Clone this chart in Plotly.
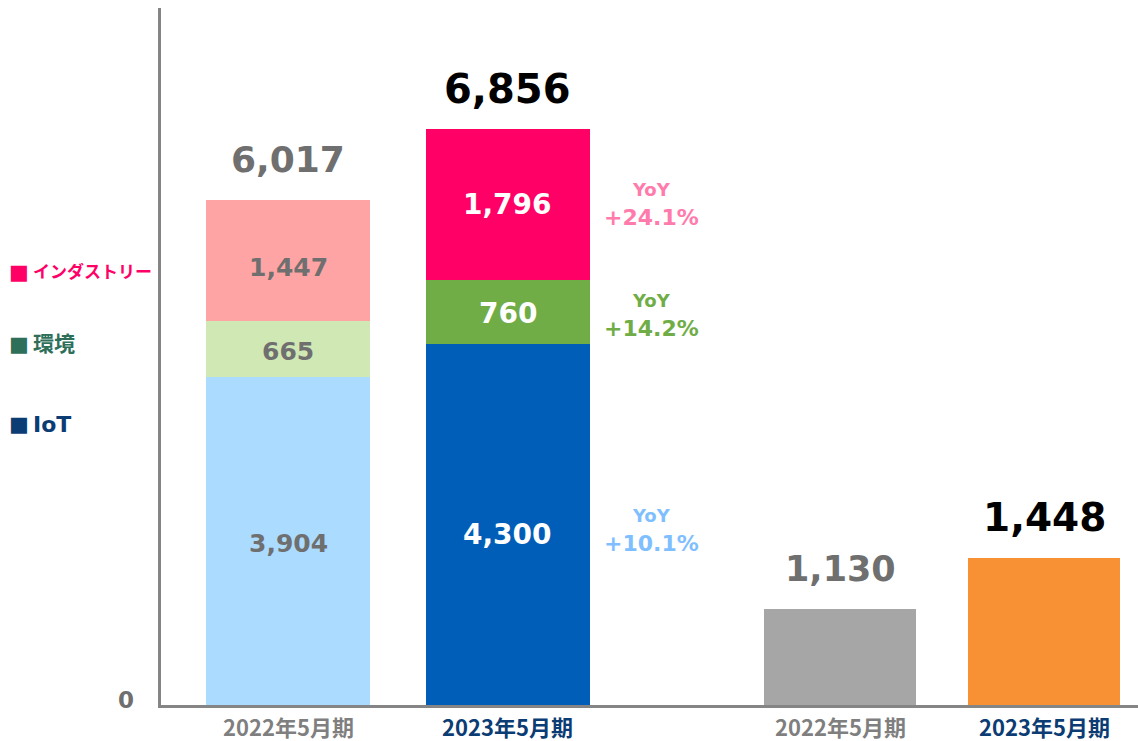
import plotly.graph_objects as go

# ---------------- data ----------------
periods = ["2022年5月期", "2023年5月期"]
iot = [3904, 4300]
env = [665, 760]
industry = [1447, 1796]
totals = [6017, 6856]
profit = [1130, 1448]
yoy_industry = "+24.1%"
yoy_env = "+14.2%"
yoy_iot = "+10.1%"
legend_labels = ["インダストリー", "環境", "IoT"]
zero_label = "0"

# ---------------- styling / layout ----------------
W, H = 1138, 741
L, R, T, B = 161, 0, 8, 36
PW, PH = W - L - R, H - T - B

FONT = "DejaVu Sans, Noto Sans CJK JP, sans-serif"
JFONT = "Noto Sans CJK JP, DejaVu Sans, sans-serif"

# x positions (slot units) and widths
x_left = [0.0, 1.0]
x_right = [2.515, 3.444]
w_left = 0.747
w_right = 0.692
x_range = [-0.5786, 3.872]
x_yoy = 1.658

y_range = [0, 8298]
y2_range = [531, 4877]

c_iot = ["#ABDBFF", "#005EB8"]
c_env = ["#D0E9B4", "#70AD47"]
c_ind = ["#FFA4A4", "#FF0066"]
c_profit = ["#A6A6A6", "#F79133"]
gray_txt = "#6F6F6F"


def px2paper_x(px):
    return (px - L) / PW


def px2paper_y(py):
    return (T + PH - py) / PH


fig = go.Figure()
fig.add_trace(go.Bar(x=x_left, y=iot, width=w_left, marker=dict(color=c_iot, line=dict(width=0)),
                     hoverinfo="skip", showlegend=False))
fig.add_trace(go.Bar(x=x_left, y=env, width=w_left, marker=dict(color=c_env, line=dict(width=0)),
                     hoverinfo="skip", showlegend=False))
fig.add_trace(go.Bar(x=x_left, y=industry, width=w_left, marker=dict(color=c_ind, line=dict(width=0)),
                     hoverinfo="skip", showlegend=False))
fig.add_trace(go.Bar(x=x_right, y=profit, width=w_right, yaxis="y2",
                     marker=dict(color=c_profit, line=dict(width=0)),
                     hoverinfo="skip", showlegend=False))

ann = []

# totals above stacked bars
tot_colors = [gray_txt, "#000000"]
tot_sizes = [36, 40]
for i in range(2):
    ann.append(dict(x=x_left[i], y=totals[i], xref="x", yref="y", text=f"<b>{totals[i]:,}</b>",
                    showarrow=False, yanchor="middle", yshift=40,
                    font=dict(family=FONT, size=tot_sizes[i], color=tot_colors[i])))
# totals above profit bars
prof_sizes = [35, 39]
for i in range(2):
    ann.append(dict(x=x_right[i], y=profit[i], xref="x", yref="y2", text=f"<b>{profit[i]:,}</b>",
                    showarrow=False, yanchor="middle", yshift=40,
                    font=dict(family=FONT, size=prof_sizes[i], color=tot_colors[i])))

# inner segment labels
seg_txt_colors = [gray_txt, "#FFFFFF"]
seg_sizes = [25, 28]
for i in range(2):
    b0 = 0
    for vals, ys in ((iot, -2 if i == 0 else -10), (env, -2), (industry, -7 if i == 0 else 0)):
        v = vals[i]
        ann.append(dict(x=x_left[i], y=b0 + v / 2, xref="x", yref="y", text=f"<b>{v:,}</b>",
                        showarrow=False, yanchor="middle", yshift=ys,
                        font=dict(family=FONT, size=seg_sizes[i], color=seg_txt_colors[i])))
        b0 += v

# YoY labels next to 2023 segments
yoy_items = [
    (iot[1] / 2, yoy_iot, "#7FBFFF", -6),
    (iot[1] + env[1] / 2, yoy_env, "#70AD47", -4),
    (iot[1] + env[1] + industry[1] / 2, yoy_industry, "#FF7BAC", 0),
]
for yv, t, col, ys in yoy_items:
    ann.append(dict(x=x_yoy, y=yv, xref="x", yref="y",
                    text=f"<b><span style='font-size:18px'>YoY</span><br>{t}</b>",
                    showarrow=False, yanchor="middle", yshift=ys, align="center",
                    font=dict(family=FONT, size=22, color=col)))

# category labels under bars
cat_colors = ["#7F7F7F", "#0B3C73"]
for xs in (x_left, x_right):
    for i in range(2):
        ann.append(dict(x=xs[i], y=0, xref="x", yref="paper", text=f"<b>{periods[i]}</b>",
                        showarrow=False, yanchor="middle", yshift=-21,
                        font=dict(family=JFONT, size=22, color=cat_colors[i])))

# legend (manual)
leg_colors = ["#FF0066", "#2E6F5A", "#0B3C73"]
leg_y = [272, 344, 424]
leg_sizes = [17, 21, 22]
for lab, col, py, fs in zip(legend_labels, leg_colors, leg_y, leg_sizes):
    ann.append(dict(x=px2paper_x(19), y=px2paper_y(py), xref="paper", yref="paper",
                    text="■", showarrow=False, xanchor="center", yanchor="middle",
                    font=dict(family=FONT, size=21, color=col)))
    ann.append(dict(x=px2paper_x(31), y=px2paper_y(py), xref="paper", yref="paper",
                    text=f"<b>{lab}</b>", showarrow=False, xanchor="left", yanchor="middle",
                    font=dict(family=FONT, size=fs, color=col)))

# zero label
ann.append(dict(x=px2paper_x(136), y=0, xref="paper", yref="y", text=f"<b>{zero_label}</b>",
                showarrow=False, xanchor="right", yanchor="middle", yshift=5,
                font=dict(family=FONT, size=23, color=gray_txt)))

fig.update_layout(
    width=W, height=H,
    margin=dict(l=L, r=R, t=T, b=B, pad=0),
    paper_bgcolor="white", plot_bgcolor="white",
    barmode="stack",
    bargap=0,
    showlegend=False,
    annotations=ann,
    xaxis=dict(range=x_range, showgrid=False, zeroline=False, showticklabels=False,
               showline=True, linecolor="#858585", linewidth=3, ticks="", fixedrange=True),
    yaxis=dict(range=y_range, showgrid=False, zeroline=False, showticklabels=False,
               showline=True, linecolor="#858585", linewidth=3, ticks="", fixedrange=True),
    yaxis2=dict(range=y2_range, overlaying="y", side="right", showgrid=False, zeroline=False,
                showticklabels=False, showline=False, ticks="", fixedrange=True),
)

fig.write_html("out.html", config={"displayModeBar": False},
               post_script="document.body.style.margin='0';document.body.style.overflow='hidden';")
